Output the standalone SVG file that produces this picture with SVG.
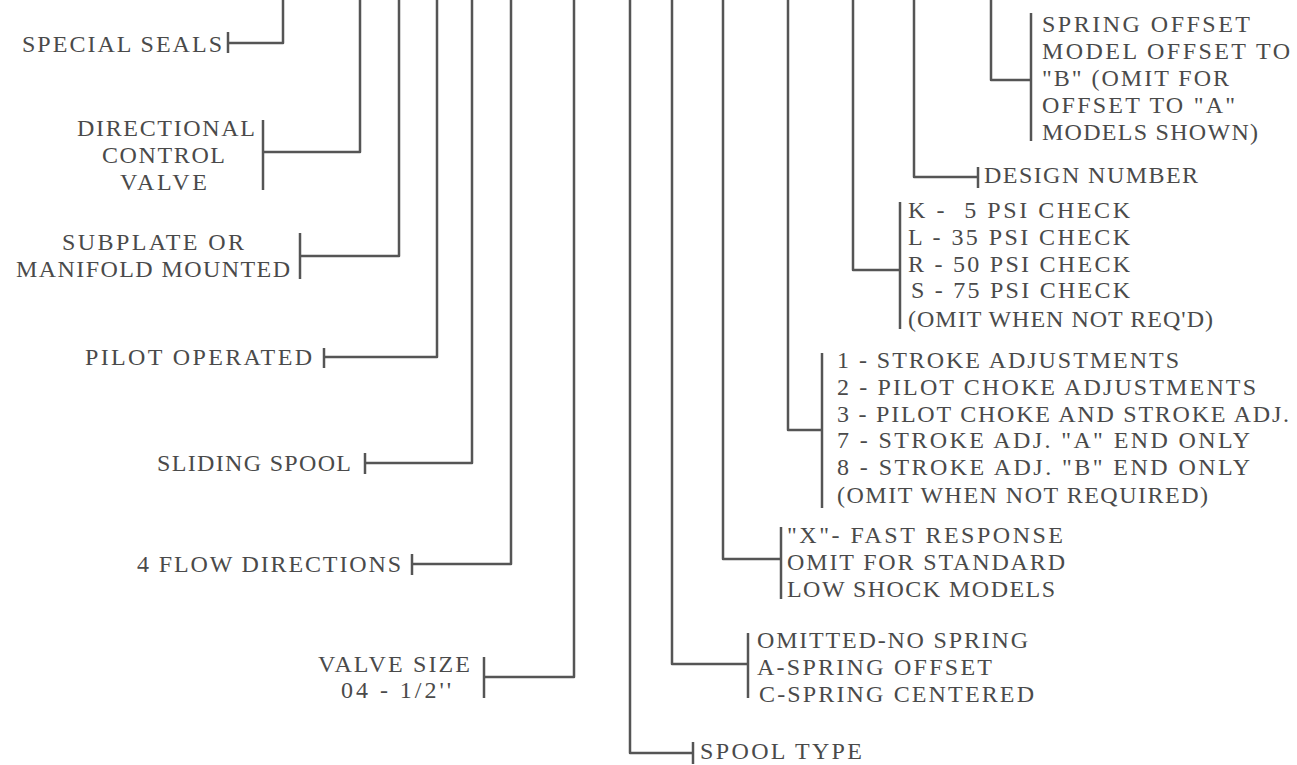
<svg xmlns="http://www.w3.org/2000/svg" width="1297" height="765" viewBox="0 0 1297 765">
<style>
.ln{fill:none;stroke:#555;stroke-width:2.5;stroke-linejoin:round;stroke-linecap:butt}
.br{fill:none;stroke:#555;stroke-width:2.5}
.l{font-family:"Liberation Serif","Times New Roman",serif;font-size:24px;fill:#4a4a4a;white-space:pre}
.r{font-family:"Liberation Serif","Times New Roman",serif;font-size:24px;fill:#4a4a4a;white-space:pre}
</style>
<rect width="1297" height="765" fill="#fff"/>
<g id="connectors">
<path class="ln" d="M283,0 V43 H228"/>
<path class="ln" d="M360,0 V152 H263"/>
<path class="ln" d="M399,0 V256 H300"/>
<path class="ln" d="M437,0 V357 H324"/>
<path class="ln" d="M472,0 V463 H365"/>
<path class="ln" d="M511,0 V564 H412"/>
<path class="ln" d="M574,0 V677 H484"/>
<path class="ln" d="M630,0 V753 H693"/>
<path class="ln" d="M672,0 V664 H748"/>
<path class="ln" d="M723,0 V559 H781"/>
<path class="ln" d="M788,0 V430 H822"/>
<path class="ln" d="M853,0 V270 H900"/>
<path class="ln" d="M914,0 V177 H978"/>
<path class="ln" d="M991,0 V80 H1031"/>
</g>
<g id="special-seals">
<path class="br" d="M228,32 V53"/>
<text class="l" x="22" y="52" textLength="200">SPECIAL SEALS</text>
</g>
<g id="directional-control-valve">
<path class="br" d="M263,120 V190"/>
<text class="l" x="77" y="136" textLength="178">DIRECTIONAL</text>
<text class="l" x="102" y="163" textLength="123">CONTROL</text>
<text class="l" x="120" y="190" textLength="87">VALVE</text>
</g>
<g id="subplate">
<path class="br" d="M300,233 V279"/>
<text class="l" x="62" y="250" textLength="182">SUBPLATE OR</text>
<text class="l" x="16" y="277" textLength="274">MANIFOLD MOUNTED</text>
</g>
<g id="pilot-operated">
<path class="br" d="M324,348 V368"/>
<text class="l" x="85" y="365" textLength="227">PILOT OPERATED</text>
</g>
<g id="sliding-spool">
<path class="br" d="M365,453 V474"/>
<text class="l" x="157" y="471" textLength="194">SLIDING SPOOL</text>
</g>
<g id="flow-directions">
<path class="br" d="M412,554 V575"/>
<text class="l" x="137" y="572" textLength="264">4 FLOW DIRECTIONS</text>
</g>
<g id="valve-size">
<path class="br" d="M484,657 V698"/>
<text class="l" x="318" y="672" textLength="152">VALVE SIZE</text>
<text class="l" x="341" y="698" textLength="110">04 - 1/2''</text>
</g>
<g id="spool-type">
<path class="br" d="M693,742 V764"/>
<text class="r" x="700" y="759" textLength="162">SPOOL TYPE</text>
</g>
<g id="spring">
<path class="br" d="M748,633 V698"/>
<text class="r" x="757" y="648" textLength="271">OMITTED-NO SPRING</text>
<text class="r" x="757" y="675" textLength="235">A-SPRING OFFSET</text>
<text class="r" x="759" y="702" textLength="275">C-SPRING CENTERED</text>
</g>
<g id="fast-response">
<path class="br" d="M781,527 V599"/>
<text class="r" x="787" y="543" textLength="276">"X"- FAST RESPONSE</text>
<text class="r" x="787" y="570" textLength="278">OMIT FOR STANDARD</text>
<text class="r" x="787" y="597" textLength="268">LOW SHOCK MODELS</text>
</g>
<g id="adjustments">
<path class="br" d="M822,353 V508"/>
<text class="r" x="837" y="368" textLength="342">1 - STROKE ADJUSTMENTS</text>
<text class="r" x="837" y="395" textLength="419">2 - PILOT CHOKE ADJUSTMENTS</text>
<text class="r" x="837" y="422" textLength="452">3 - PILOT CHOKE AND STROKE ADJ.</text>
<text class="r" x="837" y="448" textLength="413">7 - STROKE ADJ. "A" END ONLY</text>
<text class="r" x="837" y="475" textLength="413">8 - STROKE ADJ. "B" END ONLY</text>
<text class="r" x="837" y="503" textLength="371">(OMIT WHEN NOT REQUIRED)</text>
</g>
<g id="check">
<path class="br" d="M900,202 V329"/>
<text class="r" x="908" y="218" textLength="222">K -  5 PSI CHECK</text>
<text class="r" x="908" y="245" textLength="222">L - 35 PSI CHECK</text>
<text class="r" x="908" y="272" textLength="222">R - 50 PSI CHECK</text>
<text class="r" x="911" y="298" textLength="219">S - 75 PSI CHECK</text>
<text class="r" x="908" y="327" textLength="305">(OMIT WHEN NOT REQ'D)</text>
</g>
<g id="design-number">
<path class="br" d="M978,167 V188"/>
<text class="r" x="984" y="183" textLength="214">DESIGN NUMBER</text>
</g>
<g id="spring-offset">
<path class="br" d="M1031,13 V141"/>
<text class="r" x="1042" y="32" textLength="208">SPRING OFFSET</text>
<text class="r" x="1042" y="59" textLength="248">MODEL OFFSET TO</text>
<text class="r" x="1042" y="86" textLength="187">"B" (OMIT FOR</text>
<text class="r" x="1042" y="113" textLength="193">OFFSET TO "A"</text>
<text class="r" x="1042" y="140" textLength="216">MODELS SHOWN)</text>
</g>
</svg>
